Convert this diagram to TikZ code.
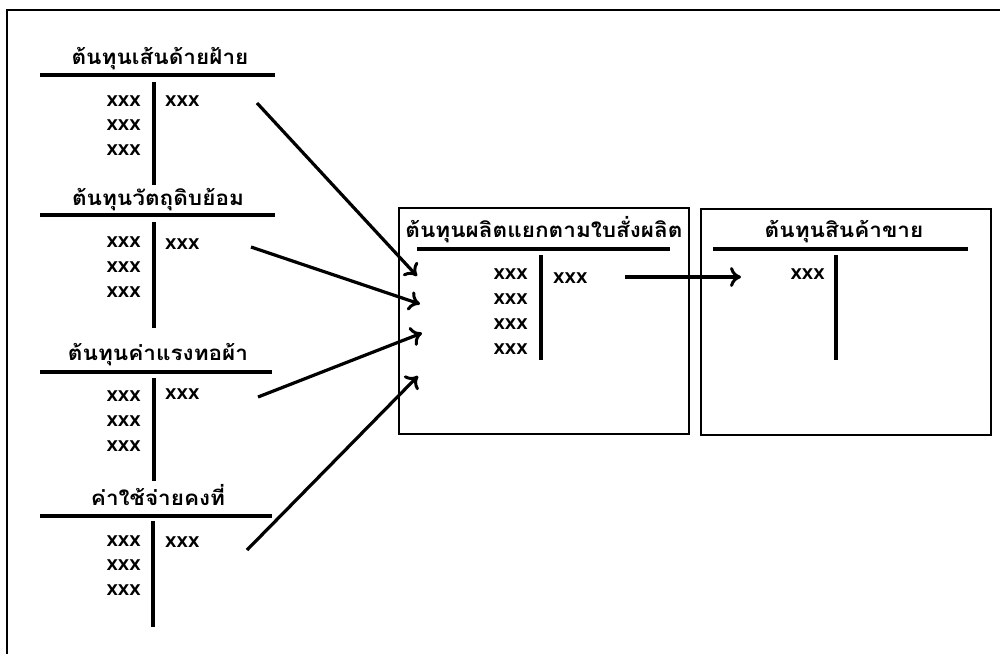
\documentclass[tikz,border=0pt]{standalone}
\usepackage{fontspec}
\newfontfamily\thaifont[Script=Thai]{Loma}
\newfontfamily\amtfont{DejaVu Sans}
\usetikzlibrary{arrows.meta}
\newcommand{\ttl}[1]{\scalebox{1.1}[1]{#1}}
\begin{document}
\begin{tikzpicture}[x=1pt,y=-1pt,
  title/.style={font=\thaifont\bfseries\fontsize{20.5}{22}\selectfont, inner sep=0pt},
  amt/.style={font=\amtfont\bfseries\fontsize{14.8}{16}\selectfont, inner sep=0pt},
  hrule/.style={line width=4.2pt},
  vrule/.style={line width=3.8pt},
  frame/.style={line width=1.2pt},
  flow/.style={line width=3.2pt, -{To[length=11pt,width=20pt,line width=3pt]}}]
\useasboundingbox (0,0) rectangle (1000,653);
\draw[line width=1.5pt] (7,670) -- (7,10) -- (1010,10);

% ---- account 1
\node[title] (t1) at (160,59) {\ttl{ต้นทุนเส้นด้ายฝ้าย}};
\draw[hrule] (40,75) -- (275,75);
\draw[vrule] (154,82) -- (154,185);
\node[amt,anchor=east] (a1l1) at (141,101) {XXX};
\node[amt,anchor=east] (a1l2) at (141,125) {XXX};
\node[amt,anchor=east] (a1l3) at (141,150) {XXX};
\node[amt,anchor=west] (a1r) at (165,101) {XXX};

% ---- account 2
\node[title] (t2) at (158,200) {\ttl{ต้นทุนวัตถุดิบย้อม}};
\draw[hrule] (40,215) -- (275,215);
\draw[vrule] (154,222) -- (154,328);
\node[amt,anchor=east] (a2l1) at (141,242) {XXX};
\node[amt,anchor=east] (a2l2) at (141,267) {XXX};
\node[amt,anchor=east] (a2l3) at (141,292) {XXX};
\node[amt,anchor=west] (a2r) at (165,244) {XXX};

% ---- account 3
\node[title] (t3) at (158,355) {\ttl{ต้นทุนค่าแรงทอผ้า}};
\draw[hrule] (40,372) -- (272,372);
\draw[vrule] (154,378) -- (154,481);
\node[amt,anchor=east] (a3l1) at (141,396) {XXX};
\node[amt,anchor=east] (a3l2) at (141,421) {XXX};
\node[amt,anchor=east] (a3l3) at (141,446) {XXX};
\node[amt,anchor=west] (a3r) at (165,394) {XXX};

% ---- account 4
\node[title] (t4) at (158,495) {\ttl{ค่าใช้จ่ายคงที่}};
\draw[hrule] (40,516) -- (272,516);
\draw[vrule] (153,521) -- (153,627);
\node[amt,anchor=east] (a4l1) at (141,541) {XXX};
\node[amt,anchor=east] (a4l2) at (141,565) {XXX};
\node[amt,anchor=east] (a4l3) at (141,590) {XXX};
\node[amt,anchor=west] (a4r) at (165,542) {XXX};

% ---- job-order box
\draw[frame] (399,208) rectangle (689,434);
\node[title] (t5) at (544,230) {\ttl{ต้นทุนผลิตแยกตามใบสั่งผลิต}};
\draw[hrule] (417,249) -- (670,249);
\draw[vrule] (541,255) -- (541,360);
\node[amt,anchor=east] (b1) at (528,274) {XXX};
\node[amt,anchor=east] (b2) at (528,299) {XXX};
\node[amt,anchor=east] (b3) at (528,324) {XXX};
\node[amt,anchor=east] (b4) at (528,349) {XXX};
\node[amt,anchor=west] (br) at (553,278) {XXX};

% ---- cost of goods sold box
\draw[frame] (701,209) rectangle (991,435);
\node[title] (t6) at (844,232) {\ttl{ต้นทุนสินค้าขาย}};
\draw[hrule] (713,249) -- (968,249);
\draw[vrule] (836,255) -- (836,360);
\node[amt,anchor=east] (c1) at (825,274) {XXX};

% ---- arrows
\coordinate (s1) at (257,103); \coordinate (e1) at (417,276);
\coordinate (s2) at (251,247); \coordinate (e2) at (420,304);
\coordinate (s3) at (258,397); \coordinate (e3) at (422,333);
\coordinate (s4) at (247,550); \coordinate (e4) at (418,376);
\coordinate (s5) at (625,277); \coordinate (e5) at (741,277);
\draw[flow] (s1) -- (e1);
\draw[flow] (s2) -- (e2);
\draw[flow] (s3) -- (e3);
\draw[flow] (s4) -- (e4);
\draw[flow] (s5) -- (e5);
\end{tikzpicture}
\end{document}
